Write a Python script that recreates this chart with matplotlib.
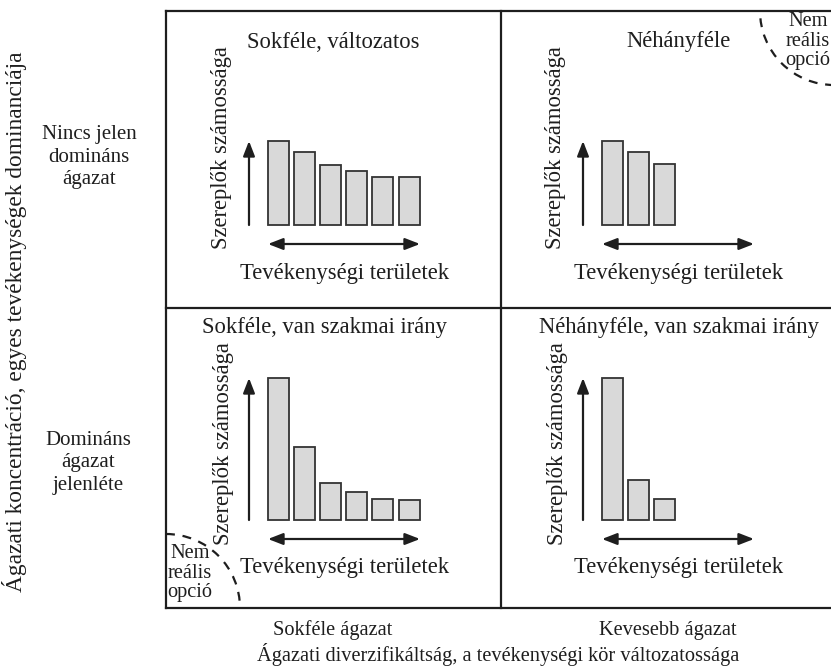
import matplotlib
matplotlib.use("Agg")
import matplotlib.pyplot as plt
from matplotlib.patches import Arc

plt.rcParams['font.family'] = ['Liberation Serif', 'DejaVu Serif']

# bar heights (px) per quadrant
bars_tl = [84, 73, 60, 54, 48, 48]
bars_tr = [84, 73, 61]
bars_bl = [142, 73, 37, 28, 21, 20]
bars_br = [142, 40, 21]

titles = ["Sokféle, változatos", "Néhányféle",
          "Sokféle, van szakmai irány", "Néhányféle, van szakmai irány"]
row_labels = ["Nincs jelen\ndomináns\nágazat", "Domináns\nágazat\njelenléte"]
col_labels = ["Sokféle ágazat", "Kevesebb ágazat"]
x_title = "Ágazati diverzifikáltság, a tevékenységi kör változatossága"
y_title = "Ágazati koncentráció, egyes tevékenységek dominanciája"
bar_axis_y = "Szereplők számossága"
bar_axis_x = "Tevékenységi területek"
not_real = "Nem\nreális\nopció"

W, H = 831, 668
fig = plt.figure(figsize=(W / 100, H / 100), dpi=100)
ax = fig.add_axes([0, 0, 1, 1])
ax.set_xlim(0, W)
ax.set_ylim(H, 0)
ax.axis('off')

ink = '#1e1e1e'
fs = 16.3      # text inside the quadrants
fs_out = 14.7  # labels outside the frame

# frame
L, T, B, R = 166, 11, 608, 845
MX, MY = 501, 308
lw = 1.6
ax.plot([L, L], [T, B], color=ink, lw=lw)
ax.plot([L, R], [T, T], color=ink, lw=lw)
ax.plot([L, R], [B, B], color=ink, lw=lw)
ax.plot([MX, MX], [T, B], color=ink, lw=lw)
ax.plot([L, R], [MY, MY], color=ink, lw=lw)

panels = [
    (0, 0, bars_tl, 225),
    (1, 0, bars_tr, 225),
    (0, 1, bars_bl, 520),
    (1, 1, bars_br, 520),
]
for i, (cx, cy, vals, base) in enumerate(panels):
    dx = cx * 334
    x0 = 278 + dx
    xs = [x0 + k * 26.2 for k in range(len(vals))]
    ax.bar(xs, [-v for v in vals], bottom=base, width=21,
           color='#d9d9d9', edgecolor='#333333', linewidth=1.3)
    # vertical arrow
    top = base - max(vals[0], 84)
    ax.annotate('', xy=(249 + dx, top), xytext=(249 + dx, base),
                arrowprops=dict(arrowstyle='-|>,head_length=0.9,head_width=0.35',
                                color=ink, lw=1.6, shrinkA=0, shrinkB=0))
    # horizontal double arrow
    ay = base + 19
    ax.annotate('', xy=(268 + dx, ay), xytext=(420 + dx, ay),
                arrowprops=dict(arrowstyle='<|-|>,head_length=0.9,head_width=0.35',
                                color=ink, lw=1.6, shrinkA=0, shrinkB=0))
    ax.text(345 + dx, base + 48, bar_axis_x, ha='center', va='center',
            fontsize=fs, color=ink)
    vx = 222 + dx + (2 if cy == 1 else 0) - (1 if cx == 1 else 0)
    vy = 148 if cy == 0 else 444
    ax.text(vx, vy, bar_axis_y, ha='center', va='center',
            rotation=90, fontsize=fs, color=ink)

ax.text(333, 42, titles[0], ha='center', va='center', fontsize=fs, color=ink)
ax.text(679, 42, titles[1], ha='center', va='center', fontsize=fs, color=ink)
ax.text(325, 328, titles[2], ha='center', va='center', fontsize=fs, color=ink)
ax.text(679, 328, titles[3], ha='center', va='center', fontsize=fs, color=ink)

# not realistic corners
ax.add_patch(Arc((L, B), 148, 148, theta1=270, theta2=360, color=ink,
                 lw=1.6, ls=(0, (4, 3.5))))
ax.add_patch(Arc((834, T), 148, 148, theta1=90, theta2=180, color=ink,
                 lw=1.6, ls=(0, (4, 3.5))))
ax.text(190, 573, not_real, ha='center', va='center', fontsize=fs_out,
        color=ink, linespacing=1.05)
ax.text(808, 41, not_real, ha='center', va='center', fontsize=fs_out,
        color=ink, linespacing=1.05)

# row / column labels
ax.text(89, 157, row_labels[0], ha='center', va='center', fontsize=15,
        color=ink, linespacing=1.25)
ax.text(88, 463, row_labels[1], ha='center', va='center', fontsize=15,
        color=ink, linespacing=1.25)
ax.text(333, 630, col_labels[0], ha='center', va='center', fontsize=fs_out, color=ink)
ax.text(668, 630, col_labels[1], ha='center', va='center', fontsize=fs_out, color=ink)
ax.text(498, 654, x_title, ha='center', va='center', fontsize=fs_out, color=ink)
ax.text(15, 322, y_title, ha='center', va='center', rotation=90,
        fontsize=16.8, color=ink)

fig.savefig('out.png', dpi=100)
